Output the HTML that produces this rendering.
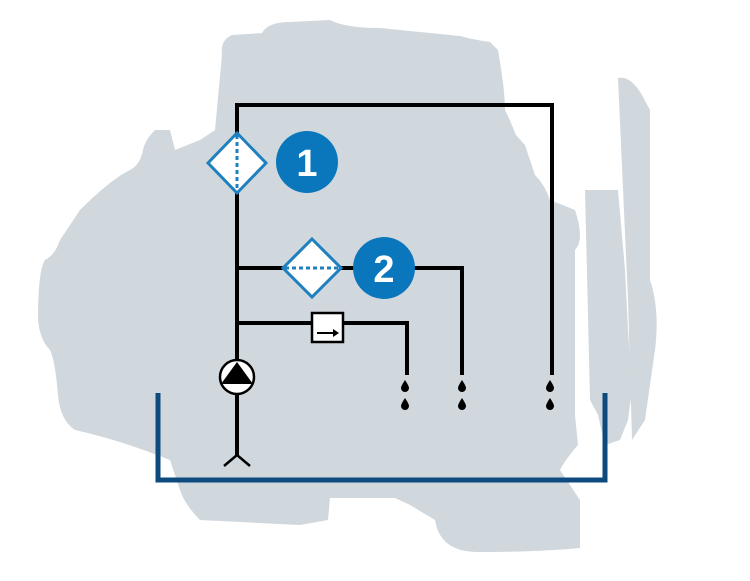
<!DOCTYPE html>
<html><head><style>html,body{margin:0;padding:0;background:#fff}svg{display:block}</style></head>
<body>
<svg width="750" height="581" viewBox="0 0 750 581" xmlns="http://www.w3.org/2000/svg">
<g fill="#d1d8dd">
<path d="M222 55 Q220 40 232 35 L262 33 Q268 22 290 22 L330 20 Q345 28 380 28 L420 32 L460 36 Q475 40 490 42 L498 50 Q505 90 505 110 Q510 120 516 135 L525 145 Q530 160 535 175 Q545 185 550 200 L575 210 Q585 240 575 250 L575 415 L578 445 Q565 460 560 470 L580 500 L580 548 Q540 552 478 552 Q440 552 435 520 L410 505 L395 498 L330 498 L328 520 L300 525 L200 520 Q185 505 180 490 L170 460 Q120 440 75 430 Q60 420 58 395 Q55 360 50 350 Q40 340 38 320 Q38 270 45 260 Q55 255 60 240 L80 210 Q110 180 130 170 Q140 165 143 150 Q145 140 155 130 L170 130 L175 150 L200 140 L215 130 Z"/>
<path d="M585 190 L618 190 L625 270 L628 330 L632 390 L628 420 L620 440 L605 445 L598 415 L590 400 Z"/>
<path d="M618 78 Q630 75 642 95 L650 110 L650 280 Q660 310 655 350 L645 420 L632 440 L628 300 Z"/>
</g>
<g stroke="#000" stroke-width="4" fill="none">
<path d="M237 103 V455 M235 105 H552 V375"/>
<path d="M237 268 H462 V375"/>
<path d="M237 323 H407 V375"/>
<path d="M237 455 L224 466 M237 455 L250 466" stroke-width="2.5"/>
</g>
<rect x="312" y="313" width="31" height="29" fill="#fff" stroke="#000" stroke-width="2.5"/>
<path d="M317 333 H334" stroke="#000" stroke-width="2"/>
<path d="M333 329 L339 333 L333 337 Z" fill="#000"/>
<circle cx="237" cy="377" r="17" fill="#fff" stroke="#000" stroke-width="2.5"/>
<path d="M237 362 L253 384 L221 384 Z" fill="#000"/>
<path d="M237 133 L266 163 L237 193 L208 163 Z" fill="#fff" stroke="#1f80c0" stroke-width="3"/>
<path d="M237 135 V191" stroke="#1f80c0" stroke-width="3" stroke-dasharray="4 3"/>
<path d="M312 239 L341 268 L312 297 L283 268 Z" fill="#fff" stroke="#1f80c0" stroke-width="3"/>
<path d="M285 268 H339" stroke="#1f80c0" stroke-width="3" stroke-dasharray="4 3"/>
<circle cx="307" cy="162" r="31" fill="#0a77bd"/>
<circle cx="384" cy="268" r="31" fill="#0a77bd"/>
<text x="307" y="176" font-family="Liberation Sans, sans-serif" font-weight="bold" font-size="38" fill="#fff" text-anchor="middle">1</text>
<text x="384" y="282" font-family="Liberation Sans, sans-serif" font-weight="bold" font-size="38" fill="#fff" text-anchor="middle">2</text>
<g fill="#000">
<path id="d" d="M0 -6 Q4 0 4 2 A4 4 0 0 1 -4 2 Q-4 0 0 -6 Z" transform="translate(405 386)"/>
<use href="#d" x="0" y="18"/>
<use href="#d" x="57" y="0"/><use href="#d" x="57" y="18"/>
<use href="#d" x="145" y="0"/><use href="#d" x="145" y="18"/>
</g>
<path d="M158 393 V480 H605 V393" fill="none" stroke="#0d4a7e" stroke-width="5"/>
</svg>
</body></html>
